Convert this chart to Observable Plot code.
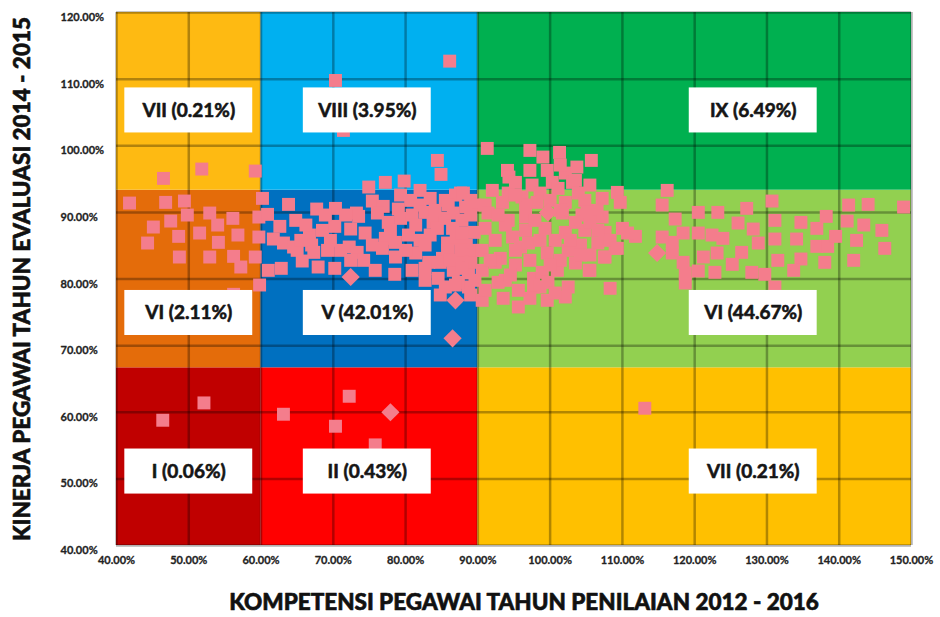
<!DOCTYPE html>
<html>
<head>
<meta charset="utf-8">
<script src="https://cdn.jsdelivr.net/npm/d3@7"></script>
<script src="https://cdn.jsdelivr.net/npm/@observablehq/plot@0.6"></script>
<style>
  html, body { margin: 0; padding: 0; background: #ffffff; }
</style>
</head>
<body>
<div id="chart"></div>
<script>
// ---- Data ----
const xTitle = "KOMPETENSI PEGAWAI TAHUN PENILAIAN 2012 - 2016";
const yTitle = "KINERJA PEGAWAI TAHUN EVALUASI 2014 - 2015";
const xTicks = [40, 50, 60, 70, 80, 90, 100, 110, 120, 130, 140, 150];
const yTicks = [40, 50, 60, 70, 80, 90, 100, 110, 120];
const xBreaks = [40, 60, 90, 150];
const yBreaks = [40, 66.67, 93.33, 120];
// region names, rows from bottom to top, columns left to right
const regionNames = [
  ["I (0.06%)", "II (0.43%)", "VII (0.21%)"],
  ["VI (2.11%)", "V (42.01%)", "VI (44.67%)"],
  ["VII (0.21%)", "VIII (3.95%)", "IX (6.49%)"]
];
const labelColX = [50, 74.7, 128.1];
const labelRowY = [51.1, 74.9, 105.3];

// employees: [kompetensi %, kinerja %]
const ptsLeft = [[41.8,91.4],[44.3,85.4],[45.1,87.8],[46.8,91.5],[47.5,88.7],[49.4,91.7],[49.8,89.6],[48.6,86.4],[51.5,86.9],[52.9,89.9],[54.0,88.1],[54.1,85.5],[56.1,89.1],[56.8,86.6],[57.2,81.8],[48.7,83.3],[52.9,83.3],[56.2,83.4],[59.2,83.3],[56.2,77.7],[46.5,95.1],[51.8,96.5],[59.2,96.2],[59.7,89.3],[59.7,86.3],[59.8,79.1]];
const ptsLow = [[46.4,58.8],[52.1,61.4],[63.1,59.7],[72.2,62.4],[70.3,57.9],[75.8,55.1],[113.1,60.6]];
const ptsHigh = [[70.3,109.8],[86.1,112.7],[71.4,102.3],[91.3,99.6],[84.4,97.8],[84.9,95.7],[77.2,94.5],[79.8,94.7],[74.9,93.8],[82.0,93.3],[87.6,92.9]];
const ptsMid = [
  [60.2,92.1],[63.8,91.2],[67.7,90.5],[70.3,90.6],[75.4,91.7],[73.2,89.9],[76.9,90.9],[79.0,90.5],[80.7,91.8],[82.0,91.1],[83.4,92.1],[85.5,91.8],[86.9,92.6],[88.0,92.9],[89.0,91.8],[89.6,91.1],
  [60.9,89.7],[64.8,88.8],[62.6,87.9],[68.5,87.3],[70.2,87.9],[72.4,87.5],[73.5,89.4],[74.4,86.9],[76.1,89.9],[77.6,88.5],[79.3,89.1],[80.9,89.6],[82.7,90.0],[83.8,88.5],[85.4,89.1],[86.6,89.9],[87.8,88.8],[89.0,89.6],
  [61.7,86.0],[63.1,85.4],[66.7,86.6],[64.5,84.8],[67.0,85.1],[72.2,84.8],[69.6,85.8],[71.0,84.3],[75.4,85.1],[77.2,86.1],[78.6,85.5],[80.4,86.6],[82.0,85.8],[83.4,86.6],[85.8,85.4],[87.0,86.1],[88.4,85.1],[89.5,87.0],
  [65.0,84.3],[67.3,84.0],[69.2,84.3],[73.3,84.0],[65.7,82.7],[72.4,82.8],[74.2,82.8],[76.8,84.6],[78.6,83.3],[81.4,83.9],[85.1,83.1],[87.3,82.8],[88.7,83.6],[83.2,82.5],
  [61.0,81.3],[62.8,81.6],[67.9,81.8],[70.2,81.6],[75.8,81.3],[78.5,80.7],[80.9,81.3],[84.5,80.1],[86.6,81.3],[88.7,80.9],[82.7,81.6],
  [84.8,77.6],[88.7,78.8],[85.5,78.8],
  [85.9,91.1],[88.3,90.8],[84.4,87.6],[86.5,87.6],[87.8,86.9],[85.8,84.3],[87.6,84.3],[89.0,82.5],[87.3,79.5],[89.6,79.8],[84.8,82.5],[89.6,84.3],
  [79.3,92.6],[81.4,88.1],[82.7,85.1],[80.0,84.3],[84.1,90.3],[86.2,82.8],[87.8,81.6],[86.9,79.1],[89.0,77.6],[82.7,79.8],[77.9,87.3],[71.7,89.6],[66.2,88.1],[68.9,89.6],[65.5,85.8]
];
const ptsDense = [
  [99.0,98.3],[101.3,99.0],[105.7,97.8],[94.1,96.3],[94.3,95.3],[99.6,96.3],[102.1,95.9],[103.7,96.8],[97.5,94.1],[100.3,94.5],[103.1,94.5],[92.0,93.3],[94.2,92.9],[96.1,92.3],[98.6,92.9],[101.1,93.6],[103.9,92.9],[107.2,92.1],[109.3,93.0],[109.7,91.5],[91.0,91.1],[93.4,91.5],[98.2,91.5],[102.1,91.5],[104.8,91.8],[91.4,89.9],[94.2,88.8],[96.6,89.3],[101.7,89.9],[104.4,89.6],[107.2,89.3],[91.0,87.6],[93.8,88.1],[96.6,87.3],[99.3,87.6],[102.1,87.0],[104.8,87.3],[107.6,87.0],[110.0,87.6],
  [90.6,84.3],[93.1,83.1],[95.9,84.8],[97.0,85.4],[99.6,83.9],[102.5,84.3],[103.5,82.4],[105.5,81.3],[107.6,83.3],[109.0,84.6],[106.6,85.4],[90.6,81.3],[92.8,79.5],[93.8,79.8],[95.6,78.3],[97.7,80.1],[98.9,81.0],[99.7,79.5],[101.0,81.3],[102.5,78.8],[102.1,77.3],[99.6,76.8],[95.6,75.8],[93.5,77.1],[90.6,76.8],[91.0,78.3],[108.3,78.6],[97.7,78.8],
  [92.4,85.8],[94.8,86.3],[98.6,85.8],[100.7,85.8],[104.2,85.1],[92.4,82.5],[95.2,82.1],[97.2,82.8],[101.4,82.8],[96.6,91.1],[100.0,91.8],[92.8,89.6],[97.9,88.8],[103.5,88.5],[95.2,94.5],[105.5,94.1],[101.4,97.1],[97.2,99.3],[106.5,90.3],[108.3,85.8],[105.5,83.6],[94.5,80.6],[105.5,88.5],[98.6,78.8],[100.7,77.9],
  [95.2,92.6],[97.2,96.3],[101.4,90.3],[104.2,83.6],[95.2,84.3],[97.2,77.1],[91.7,82.8],[100.0,82.1],[102.8,85.8],[103.5,94.8]
];
const ptsRight = [[116.2,93.3],[115.5,91.1],[117.3,89.0],[120.5,90.0],[123.2,90.0],[127.2,90.6],[130.7,91.7],[141.3,91.1],[144.0,91.2],[148.9,90.8],[126.0,88.4],[128.1,87.5],[131.1,88.8],[134.7,88.5],[138.2,89.4],[136.9,87.6],[141.1,88.7],[143.4,88.1],[145.9,87.3],[118.4,86.9],[120.5,86.9],[122.4,86.6],[123.9,86.1],[128.8,85.4],[131.1,86.0],[134.1,86.0],[136.9,84.9],[138.4,84.9],[139.5,86.4],[142.4,85.8],[146.3,84.6],[142.0,82.8],[138.0,82.5],[134.7,83.0],[133.7,81.3],[131.5,82.8],[129.7,80.7],[131.1,78.8],[127.9,81.0],[126.5,84.0],[125.2,82.2],[122.8,81.0],[120.5,81.2],[123.1,83.9],[121.2,83.3],[118.4,82.5],[116.9,83.9],[116.9,85.5],[118.7,80.9],[118.7,79.4],[115.5,86.3],[111.8,86.4],[110.7,86.9],[109.3,84.6],[107.5,83.3],[105.4,81.3],[106.6,87.3],[105.1,90.0]];
const ptsTilted = [[77.9,60.0],[72.4,80.3],[86.9,76.8],[86.5,71.1],[99.7,90.0],[114.8,83.9]];

// ---- Styles ----
const regionFills = [
  ["#C00000", "#FF0000", "#FFC000"],
  ["#E46C0A", "#0070C0", "#92D050"],
  ["#FEBA12", "#00B0F0", "#00B050"]
];
const pink = "#F47D8C";
const ink = "#151515";

// ---- Tables built from the data ----
const regions = [];
const labels = [];
for (let r = 0; r < 3; r++) {
  for (let c = 0; c < 3; c++) {
    regions.push({x1: xBreaks[c], x2: xBreaks[c + 1], y1: yBreaks[r], y2: yBreaks[r + 1], fill: regionFills[r][c]});
    labels.push({x: labelColX[c], y: labelRowY[r], name: regionNames[r][c]});
  }
}
const squares = [...ptsLeft, ...ptsLow, ...ptsHigh, ...ptsMid, ...ptsDense, ...ptsRight];
const fmt = d => d.toFixed(2) + "%";

const chart = Plot.plot({
  width: 940,
  height: 617,
  marginLeft: 116,
  marginRight: 29,
  marginTop: 12,
  marginBottom: 72,
  x: {domain: [40, 150], axis: null},
  y: {domain: [40, 120], axis: null},
  color: {type: "identity"},
  style: {fontFamily: "Lato, 'Open Sans', sans-serif", fontWeight: 700, fontSize: "11px", background: "#ffffff", color: "#1a1a1a"},
  marks: [
    Plot.rect(regions, {x1: "x1", x2: "x2", y1: "y1", y2: "y2", fill: "fill"}),
    Plot.ruleX(xTicks, {stroke: "#000", strokeOpacity: 0.3, strokeWidth: 2.5}),
    Plot.ruleY(yTicks, {stroke: "#000", strokeOpacity: 0.3, strokeWidth: 2.5}),
    Plot.dot(squares, {x: d => d[0], y: d => d[1], symbol: "square", r: 7.3, fill: pink}),
    Plot.dot(ptsTilted, {x: d => d[0], y: d => d[1], symbol: "diamond2", r: 8.2, fill: pink}),
    Plot.rect(labels, {x1: d => d.x - 8.85, x2: d => d.x + 8.85, y1: d => d.y - 3.38, y2: d => d.y + 3.38, fill: "#ffffff"}),
    Plot.text(labels, {x: "x", y: "y", text: "name", fontSize: 19, fontWeight: 700, fill: ink, stroke: ink, strokeWidth: 0.6}),
    Plot.text(xTicks, {x: d => d, text: fmt, frameAnchor: "bottom", dy: 18, fill: "#222", stroke: "#222", strokeWidth: 0.3}),
    Plot.text(yTicks, {y: d => d, text: fmt, frameAnchor: "left", textAnchor: "start", dx: -56, dy: 5, fill: "#222", stroke: "#222", strokeWidth: 0.3}),
    Plot.text([xTitle], {text: d => d, frameAnchor: "bottom", textAnchor: "middle", dy: 64, dx: 10, fontSize: 22.5, fontWeight: 900, fill: "#111", stroke: "#111", strokeWidth: 0.6}),
    Plot.text([yTitle], {text: d => d, frameAnchor: "left", textAnchor: "middle", rotate: -90, dx: -94, fontSize: 22.5, fontWeight: 900, fill: "#111", stroke: "#111", strokeWidth: 0.6})
  ]
});
document.getElementById("chart").appendChild(chart);
</script>
</body>
</html>
